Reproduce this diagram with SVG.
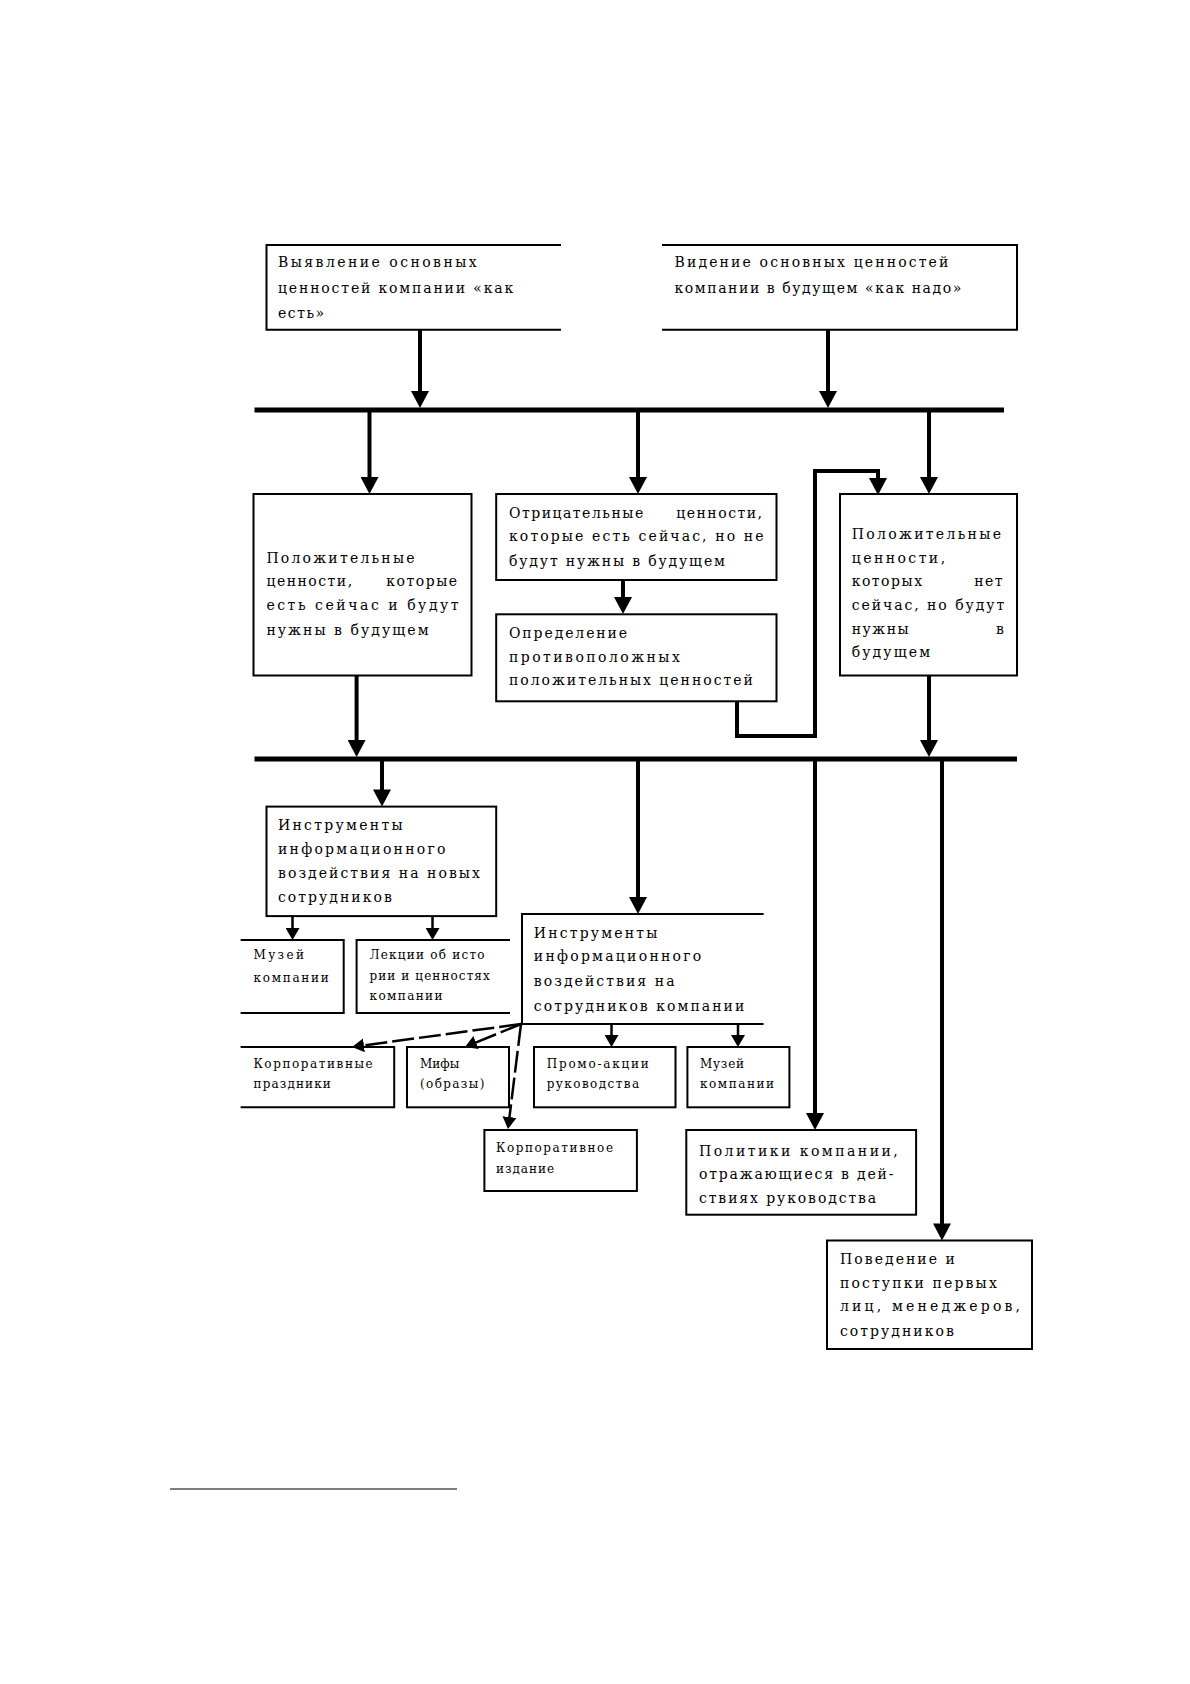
<svg xmlns="http://www.w3.org/2000/svg" width="1190" height="1684" viewBox="0 0 1190 1684">
<style>
.box{fill:none;stroke:#000;stroke-width:2}
.t{font-family:"DejaVu Serif","Liberation Serif","Times New Roman",serif;font-size:14px;fill:#000}
.j{letter-spacing:1.5px}
.s{font-family:"DejaVu Serif","Liberation Serif","Times New Roman",serif;font-size:12px;fill:#000}
.bus{stroke:#000;stroke-width:5;fill:none}
.main{stroke:#000;stroke-width:4;fill:none;marker-end:url(#ah)}
.elbow{stroke:#000;stroke-width:4;fill:none;stroke-linejoin:miter;marker-end:url(#ah)}
.small{stroke:#000;stroke-width:2.5;fill:none;marker-end:url(#ahs)}
.fan{stroke:#000;stroke-width:2.5;fill:none;stroke-dasharray:22 5;marker-end:url(#ahs)}
.foot{stroke:#000;stroke-width:1.2}
</style>
<defs>
<marker id="ah" markerUnits="userSpaceOnUse" markerWidth="18" markerHeight="18" viewBox="0 0 17 18" refX="9" refY="9" orient="auto"><path d="M0,0 L17,9 L0,18 Z" fill="#000"/></marker>
<marker id="ahs" markerUnits="userSpaceOnUse" markerWidth="12" markerHeight="14" viewBox="0 0 12 14" refX="7" refY="7" orient="auto"><path d="M0,0 L12,7 L0,14 Z" fill="#000"/></marker>
</defs>
<rect width="1190" height="1684" fill="#fff"/>

<g id="connectors">
<path class="bus" d="M254.5,410 H1004"/>
<path class="bus" d="M254.5,759 H1017"/>
<path class="main" d="M420,330 V400"/>
<path class="main" d="M828,330 V400"/>
<path class="main" d="M369.5,412 V486"/>
<path class="main" d="M638,412 V486"/>
<path class="main" d="M929,412 V486"/>
<path class="main" d="M623,580 V606"/>
<path class="elbow" d="M737,701 V736 H815 V471 H878 V487"/>
<path class="main" d="M356.6,675.5 V749"/>
<path class="main" d="M929,675.5 V749"/>
<path class="main" d="M382,761 V798.6"/>
<path class="main" d="M638,761 V906"/>
<path class="main" d="M815,761 V1122"/>
<path class="main" d="M942,761 V1232.5"/>
<path class="small" d="M292.5,916 V935"/>
<path class="small" d="M432.5,916 V935"/>
<path class="small" d="M611.5,1024 V1042"/>
<path class="small" d="M738,1024 V1042"/>
<path class="fan" d="M521,1024 L357,1046.3"/>
<path class="fan" d="M521,1024 L469.6,1045.1"/>
<path class="fan" d="M521,1024 L508.6,1124"/>
</g>

<g id="n1">
<path class="box" d="M561,245 H266.5 V329.7 H561"/>
<text class="t" x="278" y="267.4" textLength="198.7" lengthAdjust="spacing">Выявление основных</text>
<text class="t" x="278" y="292.5" textLength="235.2" lengthAdjust="spacing">ценностей компании «как</text>
<text class="t" x="278" y="317.9" textLength="46.2" lengthAdjust="spacing">есть»</text>
</g>

<g id="n2">
<path class="box" d="M662,245 H1017 V329.7 H662"/>
<text class="t" x="674.5" y="267.4" textLength="273.9" lengthAdjust="spacing">Видение основных ценностей</text>
<text class="t" x="674.5" y="292.5" textLength="286.8" lengthAdjust="spacing">компании в будущем «как надо»</text>
</g>

<g id="n3">
<rect class="box" x="253.5" y="494" width="218" height="181.5"/>
<text class="t" x="266.4" y="562.8" textLength="148.2" lengthAdjust="spacing">Положительные</text>
<text class="t j" x="266.4" y="586.4">ценности,</text>
<text class="t j" x="458.6" y="586.4" text-anchor="end">которые</text>
<text class="t" x="266.4" y="610" textLength="192.2" lengthAdjust="spacing">есть сейчас и будут</text>
<text class="t" x="266.4" y="634.7" textLength="162.2" lengthAdjust="spacing">нужны в будущем</text>
</g>

<g id="n4">
<rect class="box" x="496.2" y="494" width="280.3" height="86"/>
<text class="t j" x="509" y="517.7">Отрицательные</text>
<text class="t j" x="763.5" y="517.7" text-anchor="end">ценности,</text>
<text class="t" x="509" y="541.3" textLength="254.5" lengthAdjust="spacing">которые есть сейчас, но не</text>
<text class="t" x="509" y="566" textLength="215.9" lengthAdjust="spacing">будут нужны в будущем</text>
</g>

<g id="n5">
<rect class="box" x="496.2" y="614.3" width="280.3" height="87"/>
<text class="t" x="509" y="638" textLength="118.1" lengthAdjust="spacing">Определение</text>
<text class="t" x="509" y="661.6" textLength="170.8" lengthAdjust="spacing">противоположных</text>
<text class="t" x="509" y="685.2" textLength="243.8" lengthAdjust="spacing">положительных ценностей</text>
</g>

<g id="n6">
<rect class="box" x="840" y="494" width="177" height="181.5"/>
<text class="t" x="851.7" y="539.1" textLength="149.3" lengthAdjust="spacing">Положительные</text>
<text class="t" x="851.7" y="562.8" textLength="93.4" lengthAdjust="spacing">ценности,</text>
<text class="t j" x="851.7" y="586.4">которых</text>
<text class="t j" x="1004" y="586.4" text-anchor="end">нет</text>
<text class="t" x="851.7" y="610" textLength="152.5" lengthAdjust="spacing">сейчас, но будут</text>
<text class="t j" x="851.7" y="633.7">нужны</text>
<text class="t" x="1004" y="633.7" text-anchor="end">в</text>
<text class="t" x="851.7" y="657.3" textLength="78.4" lengthAdjust="spacing">будущем</text>
</g>

<g id="n7">
<rect class="box" x="266.5" y="806.6" width="229.7" height="109.5"/>
<text class="t" x="278" y="830.2" textLength="124.6" lengthAdjust="spacing">Инструменты</text>
<text class="t" x="278" y="853.8" textLength="167.5" lengthAdjust="spacing">информационного</text>
<text class="t" x="278" y="877.5" textLength="201.9" lengthAdjust="spacing">воздействия на новых</text>
<text class="t" x="278" y="902.2" textLength="113.8" lengthAdjust="spacing">сотрудников</text>
</g>

<g id="n8">
<path class="box" d="M763.6,914 H522 V1024 H763.6"/>
<text class="t" x="533.8" y="937.6" textLength="123.5" lengthAdjust="spacing">Инструменты</text>
<text class="t" x="533.8" y="961.2" textLength="167.5" lengthAdjust="spacing">информационного</text>
<text class="t" x="533.8" y="985.9" textLength="140.7" lengthAdjust="spacing">воздействия на</text>
<text class="t" x="533.8" y="1010.6" textLength="210.5" lengthAdjust="spacing">сотрудников компании</text>
</g>

<g id="n9">
<path class="box" d="M240.6,940 H343.7 V1013 H240.6"/>
<text class="s" x="253.5" y="959" textLength="50.5" lengthAdjust="spacing">Музей</text>
<text class="s" x="253.5" y="981.6" textLength="75.2" lengthAdjust="spacing">компании</text>
</g>

<g id="n10">
<path class="box" d="M510,940 H356.6 V1013 H510"/>
<text class="s" x="369.5" y="959" textLength="115" lengthAdjust="spacing">Лекции об исто</text>
<text class="s" x="369.5" y="979.5" textLength="120.3" lengthAdjust="spacing">рии и ценностях</text>
<text class="s" x="369.5" y="1000" textLength="73" lengthAdjust="spacing">компании</text>
</g>

<g id="n11">
<path class="box" d="M240.6,1047 H394.2 V1107.3 H240.6"/>
<text class="s" x="253.5" y="1067.6" textLength="119.2" lengthAdjust="spacing">Корпоративные</text>
<text class="s" x="253.5" y="1088" textLength="77.3" lengthAdjust="spacing">праздники</text>
</g>

<g id="n12">
<rect class="box" x="407" y="1047" width="102" height="60.3"/>
<text class="s" x="420" y="1067.6">Мифы</text>
<text class="s" x="420" y="1088" textLength="64.4" lengthAdjust="spacing">(образы)</text>
</g>

<g id="n13">
<rect class="box" x="534" y="1047" width="141.5" height="60.3"/>
<text class="s" x="546.7" y="1067.6" textLength="102" lengthAdjust="spacing">Промо-акции</text>
<text class="s" x="546.7" y="1088" textLength="92.4" lengthAdjust="spacing">руководства</text>
</g>

<g id="n14">
<rect class="box" x="687.4" y="1047" width="102" height="60.3"/>
<text class="s" x="700" y="1067.6" textLength="44" lengthAdjust="spacing">Музей</text>
<text class="s" x="700" y="1088" textLength="74.1" lengthAdjust="spacing">компании</text>
</g>

<g id="n15">
<rect class="box" x="484.4" y="1130" width="152.5" height="61"/>
<text class="s" x="496" y="1152.4" textLength="117" lengthAdjust="spacing">Корпоративное</text>
<text class="s" x="496" y="1172.8" textLength="58" lengthAdjust="spacing">издание</text>
</g>

<g id="n16">
<rect class="box" x="686.3" y="1130" width="229.8" height="84.7"/>
<text class="t" x="699" y="1155.6" textLength="198.7" lengthAdjust="spacing">Политики компании,</text>
<text class="t" x="699" y="1179.3" textLength="194.4" lengthAdjust="spacing">отражающиеся в дей-</text>
<text class="t" x="699" y="1202.9" textLength="177.2" lengthAdjust="spacing">ствиях руководства</text>
</g>

<g id="n17">
<rect class="box" x="827" y="1240.5" width="205" height="108.5"/>
<text class="t" x="840" y="1264.1" textLength="114.9" lengthAdjust="spacing">Поведение и</text>
<text class="t" x="840" y="1287.8" textLength="156.8" lengthAdjust="spacing">поступки первых</text>
<text class="t" x="840" y="1311.4" textLength="180" lengthAdjust="spacing">лиц, менеджеров,</text>
<text class="t" x="840" y="1336.1" textLength="113.8" lengthAdjust="spacing">сотрудников</text>
</g>

<line class="foot" x1="170" y1="1489" x2="457" y2="1489"/>
</svg>
